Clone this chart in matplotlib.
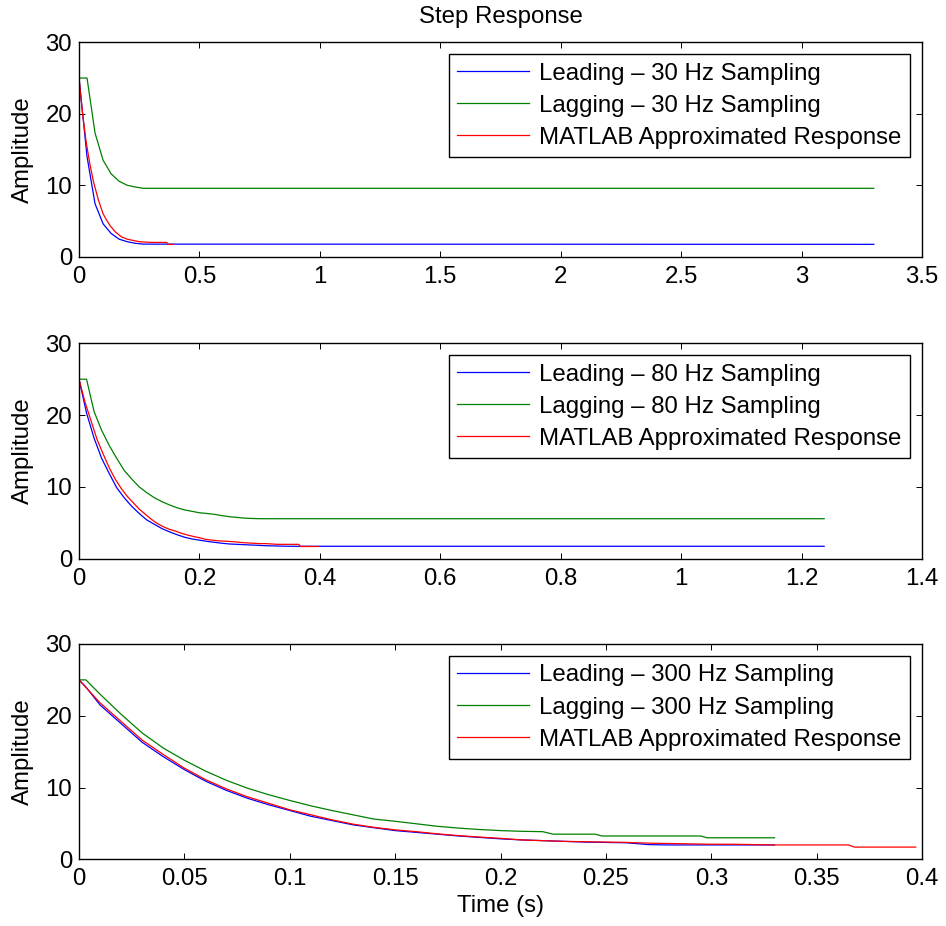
import numpy as np
import matplotlib
matplotlib.use("Agg")
import matplotlib.pyplot as plt
from matplotlib.ticker import FuncFormatter

plt.rcParams['font.family'] = ['Liberation Sans', 'DejaVu Sans']

# ---------------- data ----------------
title = "Step Response"
ylabel = "Amplitude"
xlabel = "Time (s)"
rates = ["30", "80", "300"]
legend_labels = ["Leading \u2013 {} Hz Sampling", "Lagging \u2013 {} Hz Sampling", "MATLAB Approximated Response"]

# 30 Hz sampling
lead30_t = [0, 1/30, 2/30, 3/30, 4/30, 5/30, 6/30, 7/30, 8/30, 3.3]
lead30_y = [25.0, 14.0, 7.4, 4.6, 3.25, 2.45, 2.1, 1.88, 1.76, 1.73]
lag30_t = [0, 1/30, 2/30, 3/30, 4/30, 5/30, 6/30, 7/30, 8/30, 3.3]
lag30_y = [25.0, 25.0, 17.3, 13.5, 11.6, 10.55, 10.0, 9.75, 9.57, 9.57]
red30_t = [0, 0.015, 0.03, 0.045, 0.06, 0.08, 0.1, 0.115, 0.13, 0.15, 0.175, 0.2,
           0.25, 0.3, 0.365, 0.368, 0.393]
red30_y = [25.0, 20.0, 16.0, 13.0, 10.5, 8.0, 6.0, 5.1, 4.3, 3.5, 2.8, 2.45,
           2.1, 2.0, 2.0, 1.73, 1.73]

# 80 Hz sampling (dt = 0.0125)
lead80_y = [25.0, 20.3, 16.8, 14.0, 11.9, 9.9, 8.5, 7.3, 6.3, 5.4, 4.8, 4.2, 3.75,
            3.35, 3.0, 2.75, 2.58, 2.42, 2.28, 2.15, 2.05, 2.0, 1.95, 1.9, 1.85,
            1.8, 1.78, 1.75, 1.73]
lead80_end = 1.2375
lag80_y = [25.0, 25.0, 20.5, 17.9, 15.8, 14.0, 12.3, 11.1, 10.0, 9.2, 8.5, 7.95,
           7.5, 7.1, 6.8, 6.6, 6.4, 6.3, 6.18, 6.0, 5.85, 5.75, 5.65, 5.6, 5.57]
lag80_end = 1.2375

# 300 Hz sampling
lead300_t = [0, 0.0033, 0.01, 0.02, 0.03, 0.04, 0.05, 0.06, 0.07, 0.08, 0.09, 0.10,
             0.11, 0.12, 0.13, 0.14, 0.15, 0.16, 0.17, 0.18, 0.19, 0.20, 0.21, 0.22,
             0.23, 0.24, 0.25, 0.26, 0.27, 0.28, 0.33]
lead300_y = [25.0, 24.0, 21.5, 18.9, 16.3, 14.3, 12.5, 10.9, 9.6, 8.5, 7.6, 6.8,
             6.0, 5.4, 4.8, 4.4, 4.0, 3.75, 3.5, 3.25, 3.05, 2.85, 2.7, 2.6,
             2.5, 2.4, 2.35, 2.3, 2.05, 2.0, 2.0]
lag300_t = [0, 0.0033, 0.01, 0.02, 0.03, 0.04, 0.05, 0.06, 0.07, 0.08, 0.09, 0.10,
            0.11, 0.12, 0.13, 0.14, 0.15, 0.16, 0.17, 0.18, 0.19, 0.20, 0.21, 0.22,
            0.225, 0.245, 0.248, 0.295, 0.298, 0.33]
lag300_y = [25.0, 25.0, 23.0, 20.2, 17.6, 15.5, 13.8, 12.3, 11.0, 9.9, 9.0, 8.2,
            7.45, 6.8, 6.2, 5.6, 5.3, 4.95, 4.6, 4.35, 4.15, 4.0, 3.9, 3.85,
            3.5, 3.5, 3.25, 3.25, 3.0, 3.0]

# MATLAB approximated (continuous) response, subplots 2 and 3
red_t = [0, 0.01, 0.02, 0.03, 0.04, 0.05, 0.06, 0.07, 0.08, 0.09, 0.10, 0.11, 0.12,
         0.13, 0.14, 0.15, 0.16, 0.17, 0.18, 0.19, 0.20, 0.21, 0.22, 0.23, 0.24,
         0.25, 0.26, 0.27, 0.28, 0.29, 0.30, 0.31, 0.32, 0.33, 0.34, 0.35, 0.365,
         0.368, 0.397]
red_y = [25.0, 21.8, 19.2, 16.6, 14.6, 12.7, 11.1, 9.8, 8.7, 7.8, 6.9, 6.2, 5.5,
         4.9, 4.45, 4.1, 3.85, 3.55, 3.3, 3.1, 2.92, 2.7, 2.6, 2.5, 2.45,
         2.4, 2.35, 2.25, 2.2, 2.15, 2.1, 2.1, 2.05, 2.0, 2.0, 2.0, 2.0,
         1.7, 1.7]

xlims = [3.5, 1.4, 0.4]
xsteps = [0.5, 0.2, 0.05]
yticks = [0, 10, 20, 30]

# ---------------- build series ----------------
dt80 = 1 / 80
lead80_t = [i * dt80 for i in range(len(lead80_y))] + [lead80_end]
lead80_yy = lead80_y + [lead80_y[-1]]
lag80_t = [i * dt80 for i in range(len(lag80_y))] + [lag80_end]
lag80_yy = lag80_y + [lag80_y[-1]]

series = [
    ((lead30_t, lead30_y), (lag30_t, lag30_y), (red30_t, red30_y)),
    ((lead80_t, lead80_yy), (lag80_t, lag80_yy), (red_t, red_y)),
    ((lead300_t, lead300_y), (lag300_t, lag300_y), (red_t, red_y)),
]

W, H = 946, 926
fig = plt.figure(figsize=(W / 100, H / 100), dpi=100)

ax_px = [(42.3, 256.7), (343.3, 558.7), (644.0, 859.3)]
left_px, right_px = 79, 922

fmt = FuncFormatter(lambda v, p: "%g" % round(v, 6))
FS = 17.3

axes = []
for i, (top, bot) in enumerate(ax_px):
    ax = fig.add_axes([left_px / W, 1 - bot / H, (right_px - left_px) / W, (bot - top) / H])
    axes.append(ax)
    (lt, ly), (gt, gy), (rt, ry) = series[i]
    ax.plot(lt, ly, color=(0, 0, 1), lw=0.9, label=legend_labels[0].format(rates[i]))
    ax.plot(gt, gy, color=(0, 0.5, 0), lw=0.9, label=legend_labels[1].format(rates[i]))
    ax.plot(rt, ry, color=(1, 0, 0), lw=0.9, label=legend_labels[2])
    ax.set_xlim(0, xlims[i])
    ax.set_ylim(0, 30)
    ax.set_xticks(np.arange(0, xlims[i] + 1e-9, xsteps[i]))
    ax.set_yticks(yticks)
    ax.xaxis.set_major_formatter(fmt)
    ax.yaxis.set_major_formatter(fmt)
    ax.tick_params(direction='in', length=4.3, width=0.7, top=True, right=True,
                   labelsize=FS, color='black')
    ax.tick_params(axis='x', pad=6.5)
    ax.tick_params(axis='y', pad=5.0)
    for s in ax.spines.values():
        s.set_linewidth(1.0)
    ax.set_ylabel(ylabel, fontsize=FS)
    ax.yaxis.set_label_coords(-0.054, 0.5)
    leg = ax.legend(loc='upper right', fontsize=FS, frameon=True, fancybox=False,
                    edgecolor='black', framealpha=1, handlelength=3.0,
                    handletextpad=0.42, borderaxespad=0.5, labelspacing=0.42,
                    borderpad=0.35)
    leg.get_frame().set_linewidth(1.0)

axes[0].text(0.5, 1 + 19 / 214.4, title, transform=axes[0].transAxes,
             ha='center', va='baseline', fontsize=FS)
axes[2].set_xlabel(xlabel, fontsize=FS)
axes[2].xaxis.set_label_coords(0.5, -0.165)

fig.savefig("out.png", dpi=100)
